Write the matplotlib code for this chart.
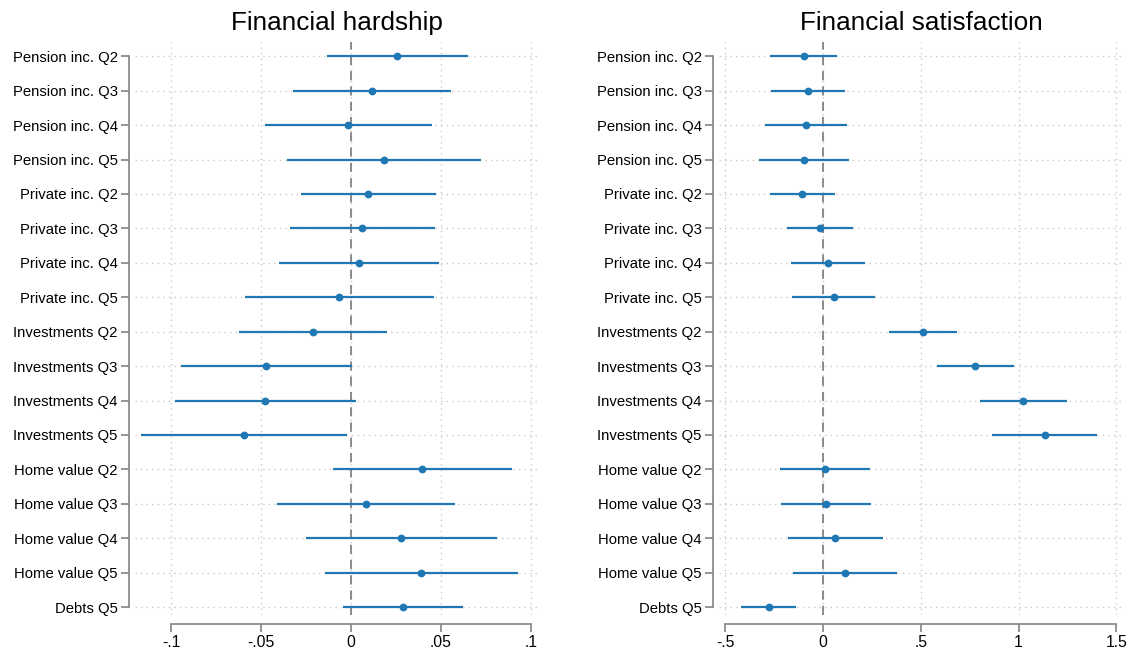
import matplotlib
matplotlib.use("Agg")
import matplotlib.pyplot as plt
import numpy as np

plt.rcParams['font.family'] = ['Liberation Sans', 'DejaVu Sans']

labels = [
    "Pension inc. Q2", "Pension inc. Q3", "Pension inc. Q4", "Pension inc. Q5",
    "Private inc. Q2", "Private inc. Q3", "Private inc. Q4", "Private inc. Q5",
    "Investments Q2", "Investments Q3", "Investments Q4", "Investments Q5",
    "Home value Q2", "Home value Q3", "Home value Q4", "Home value Q5",
    "Debts Q5",
]

# Financial hardship: point estimates and 95% CI bounds
hard_coef = [0.0254, 0.0115, -0.0017, 0.0183, 0.0094, 0.0063, 0.0043, -0.0065,
             -0.0209, -0.0470, -0.0476, -0.0596, 0.0396, 0.0081, 0.0280, 0.0390, 0.0287]
hard_lo = [-0.0135, -0.0324, -0.0480, -0.0357, -0.0278, -0.0337, -0.0402, -0.0587,
           -0.0620, -0.0944, -0.0978, -0.1169, -0.0100, -0.0411, -0.0248, -0.0144, -0.0046]
hard_hi = [0.0648, 0.0556, 0.0448, 0.0724, 0.0470, 0.0465, 0.0490, 0.0461,
           0.0198, 0.0007, 0.0028, -0.0024, 0.0894, 0.0576, 0.0810, 0.0930, 0.0624]

# Financial satisfaction: point estimates and 95% CI bounds
sat_coef = [-0.099, -0.078, -0.089, -0.097, -0.106, -0.017, 0.026, 0.055,
            0.512, 0.778, 1.024, 1.133, 0.009, 0.014, 0.063, 0.111, -0.278]
sat_lo = [-0.270, -0.266, -0.297, -0.326, -0.270, -0.186, -0.164, -0.157,
          0.338, 0.582, 0.802, 0.865, -0.220, -0.215, -0.178, -0.152, -0.420]
sat_hi = [0.072, 0.113, 0.121, 0.133, 0.060, 0.152, 0.217, 0.268,
          0.687, 0.977, 1.249, 1.399, 0.241, 0.247, 0.307, 0.377, -0.137]

hard_ticks = [-0.1, -0.05, 0, 0.05, 0.1]
hard_ticklabels = ["-.1", "-.05", "0", ".05", ".1"]
sat_ticks = [-0.5, 0, 0.5, 1, 1.5]
sat_ticklabels = ["-.5", "0", ".5", "1", "1.5"]

BLUE = "#1f77b4"
SPINE = "#8c8c8c"
GRID = "#c8c8c8"

fig = plt.figure(figsize=(11.32, 6.57), dpi=100)
ax1 = fig.add_axes([0.1193, 0.0639, 0.356, 0.872])
ax2 = fig.add_axes([0.6352, 0.0639, 0.357, 0.872])


def coefplot(ax, coef, lo, hi, ticks, ticklabels, xlim, title):
    y = np.arange(len(labels))
    # spine placement first: repositioning a spine rebuilds its axis ticks
    for side in ("top", "right"):
        ax.spines[side].set_visible(False)
    ax.spines["left"].set_position(("outward", 4.5))
    ax.spines["bottom"].set_position(("outward", 6.5))

    ax.set_ylim(len(labels) - 1 + 0.23, -0.41)
    ax.set_xlim(*xlim)
    ax.axvline(0, color="#6e6e6e", lw=1.1, ls=(0, (6, 4)), zorder=1)
    ax.hlines(y, lo, hi, color=BLUE, lw=1.6, zorder=3)
    ax.plot(coef, y, "o", color=BLUE, ms=4.6, zorder=4)
    ax.set_yticks(y)
    ax.set_yticklabels(labels)
    ax.set_xticks(ticks)
    ax.set_xticklabels(ticklabels)
    ax.grid(True, color=GRID, ls=(0, (1, 3)), lw=1.0)
    ax.set_axisbelow(True)
    ax.spines["left"].set_bounds(0, len(labels) - 1)
    ax.spines["bottom"].set_bounds(ticks[0], ticks[-1])
    for side in ("left", "bottom"):
        ax.spines[side].set_color(SPINE)
        ax.spines[side].set_linewidth(1.3)
    ax.tick_params(axis="both", color=SPINE, width=1.3, length=5.5, pad=2.5)
    ax.tick_params(axis="y", labelsize=10.7)
    ax.tick_params(axis="x", labelsize=11.3)
    ax.set_title(title, fontsize=18.8, pad=9)


coefplot(ax1, hard_coef, hard_lo, hard_hi, hard_ticks, hard_ticklabels,
         (-0.12, 0.1039), "Financial hardship")
coefplot(ax2, sat_coef, sat_lo, sat_hi, sat_ticks, sat_ticklabels,
         (-0.532, 1.535), "Financial satisfaction")

fig.savefig("out.png", dpi=100)
